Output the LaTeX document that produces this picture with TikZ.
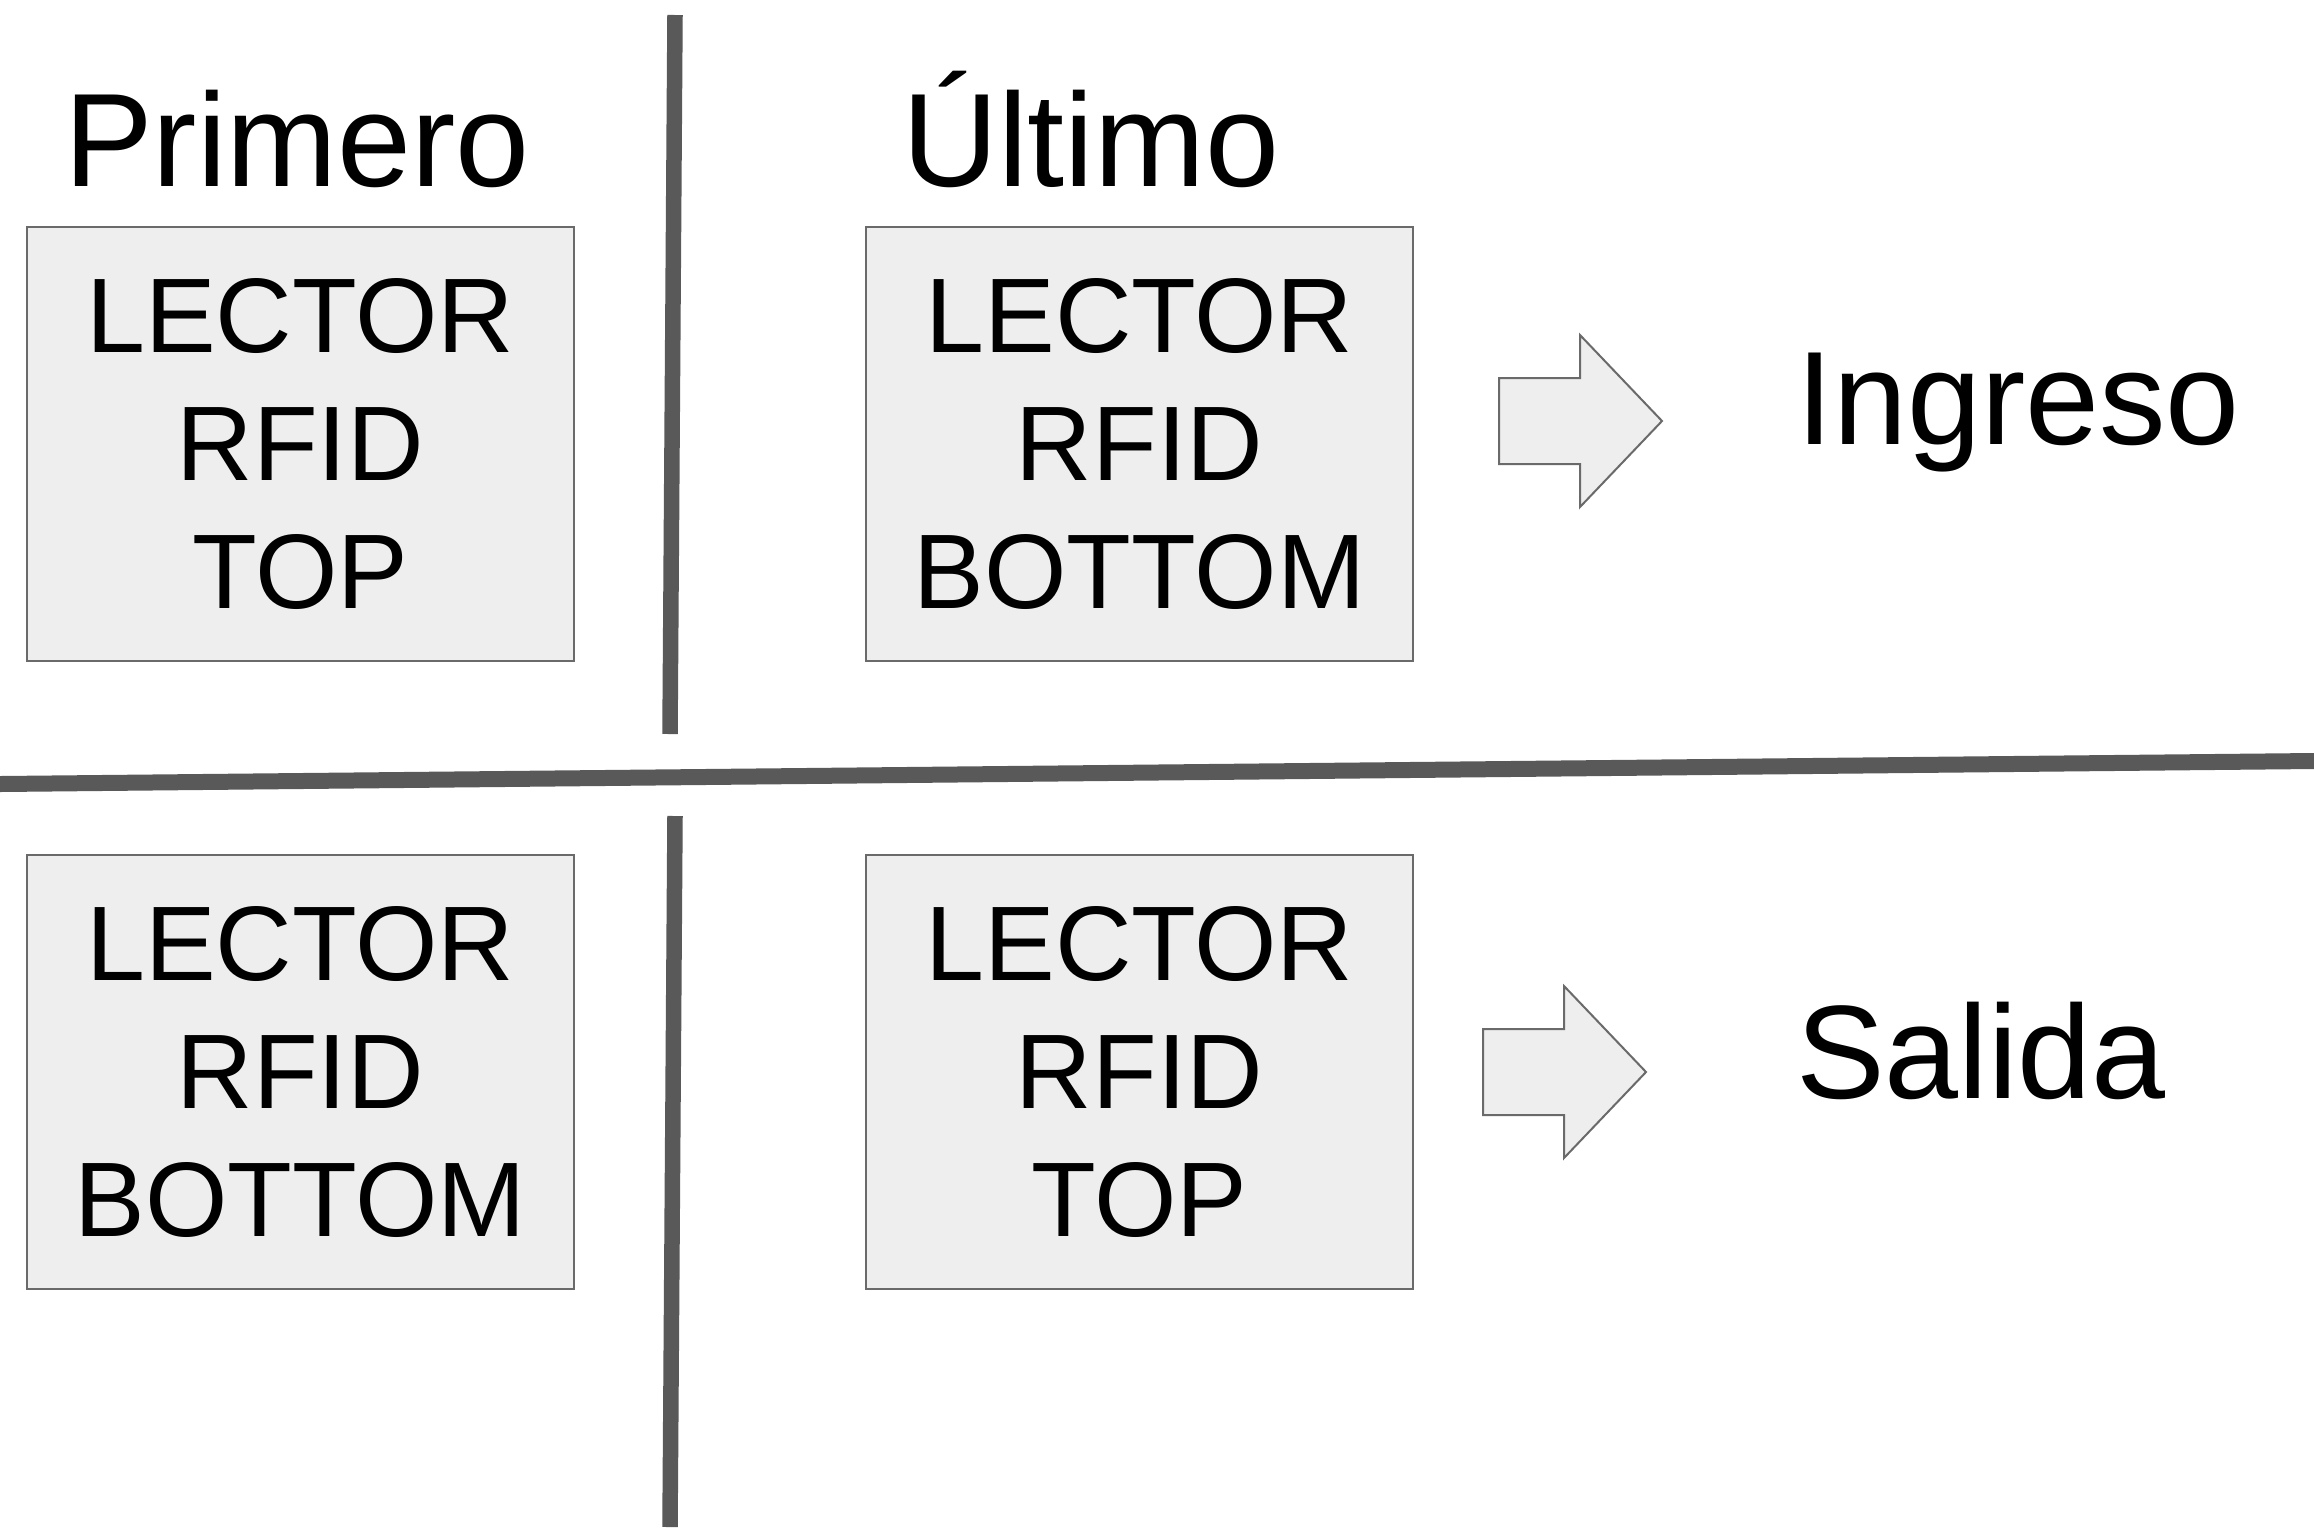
\documentclass[tikz,border=0pt]{standalone}
\usepackage{fontspec}
\setmainfont{Liberation Sans}
\usepackage{tikz}
\usepackage{xcolor}

\definecolor{fondo}{HTML}{EEEEEE}
\definecolor{borde}{HTML}{6A6A6A}
\definecolor{linea}{HTML}{595959}

\tikzset{
  lector/.style={draw=borde, line width=2pt, fill=fondo, minimum width=547pt, minimum height=434pt,
    inner sep=0pt, align=center, font=\fontsize{106}{128}\selectfont},
  titulo/.style={anchor=base west, inner sep=0pt, font=\fontsize{133}{160}\selectfont},
  flecha/.style={draw=borde, line width=2pt, fill=fondo, line join=miter},
  separador/.style={draw=linea, line width=15.5pt}
}

\begin{document}
\begin{tikzpicture}[x=1pt,y=-1pt]
\useasboundingbox (0,0) rectangle (2314,1527);

\draw[separador] (675,15) -- (670,734);
\draw[separador] (675,816) -- (670,1527);
\draw[separador, line width=16pt] (0,784) -- (2314,761);

\node[titulo] (primero) at (64,186) {Primero};
\node[titulo] (ultimo) at (902,186) {Último};

\node[lector] (primtop) at (300.3,444) {LECTOR\\RFID\\TOP};
\node[lector] (ulttop) at (1139.5,444) {LECTOR\\RFID\\BOTTOM};
\node[lector] (primbot) at (300.3,1072) {LECTOR\\RFID\\BOTTOM};
\node[lector] (ultbot) at (1139.5,1072) {LECTOR\\RFID\\TOP};

\foreach \x/\y in {1499/421, 1483/1072}
    \draw[flecha] (\x,\y) ++(0,-43) -- ++(81,0) -- ++(0,-43) -- ++(82,86) -- ++(-82,86)
        -- ++(0,-43) -- ++(-81,0) -- cycle;

\node[titulo] (ingreso) at (1796,444) {Ingreso};
\node[titulo] (salida) at (1796,1098) {Salida};
\end{tikzpicture}
\end{document}
